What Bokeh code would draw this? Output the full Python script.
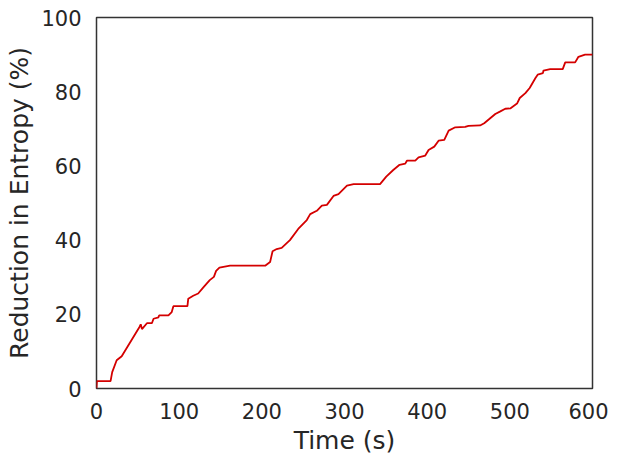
from bokeh.plotting import figure
from bokeh.models import Range1d, FixedTicker
from bokeh.embed import file_html
from bokeh.resources import INLINE

time_s = [0, 0.5, 17, 19, 24.4, 30.5, 52, 53.5, 55, 61, 67, 69, 75, 75.7, 87, 91, 93,
          110, 111, 117, 123, 129, 137, 142, 144.7, 148.7, 161.6, 204, 210, 213, 218,
          224, 234, 244, 254.4, 258.5, 266.5, 272.6, 278.7, 286.7, 292.7, 303, 311,
          343, 350.5, 359, 366.6, 373.5, 375.5, 385.6, 389.6, 397.7, 401.7, 408.6,
          413.8, 420.7, 426, 434, 446, 450, 464, 469, 475.5, 482.4, 488.5, 494.5,
          500.5, 508.7, 512, 518.8, 524, 531, 533.7, 540, 540.7, 548.8, 564, 567,
          579, 583, 591, 600]
entropy_pct = [0, 2.0, 2.0, 4.4, 7.6, 8.7, 16.6, 17.3, 16.0, 17.6, 17.6, 18.8, 19.2,
               19.7, 19.7, 20.6, 22.2, 22.2, 24.2, 25.0, 25.6, 27.2, 29.2, 30.1, 31.7,
               32.6, 33.1, 33.1, 34.1, 37.0, 37.6, 37.9, 40.0, 43.0, 45.4, 47.0, 47.9,
               49.3, 49.5, 51.9, 52.4, 54.7, 55.1, 55.1, 57.1, 58.9, 60.3, 60.6, 61.4,
               61.4, 62.3, 62.8, 64.3, 65.2, 66.8, 67.0, 69.5, 70.4, 70.5, 70.8, 70.9,
               71.5, 72.7, 74.0, 74.7, 75.4, 75.5, 76.8, 78.3, 79.6, 81.0, 83.7, 84.6,
               85.0, 85.7, 86.1, 86.1, 87.9, 87.9, 89.4, 90.0, 90.0]
x_ticks = [0, 100, 200, 300, 400, 500, 600]
y_ticks = [0, 20, 40, 60, 80, 100]

TEXT = "#262626"
FONT = "DejaVu Sans"

p = figure(width=608, height=458, output_backend="svg", toolbar_location=None,
           x_range=Range1d(0, 600), y_range=Range1d(0, 100),
           min_border_left=96, min_border_right=16, min_border_top=17, min_border_bottom=70)
p.line(time_s, entropy_pct, line_color="#d40000", line_width=1.8)

p.grid.visible = False
p.outline_line_color = "#333333"
p.outline_line_width = 1.5
p.background_fill_color = "white"
p.border_fill_color = "white"

for ax in (p.xaxis[0], p.yaxis[0]):
    ax.axis_line_color = None
    ax.major_tick_line_color = None
    ax.minor_tick_line_color = None
    ax.major_tick_out = 0
    ax.major_tick_in = 0
    ax.minor_tick_out = 0
    ax.minor_tick_in = 0
    ax.major_label_text_font = FONT
    ax.major_label_text_font_size = "21px"
    ax.major_label_text_color = TEXT
    ax.axis_label_text_font = FONT
    ax.axis_label_text_font_size = "25px"
    ax.axis_label_text_color = TEXT
    ax.axis_label_text_font_style = "normal"

p.xaxis.ticker = FixedTicker(ticks=x_ticks)
p.yaxis.ticker = FixedTicker(ticks=y_ticks)
p.xaxis.axis_label = "Time (s)"
p.yaxis.axis_label = "Reduction in Entropy (%)"
p.xaxis.major_label_standoff = 14
p.yaxis.major_label_standoff = 15
p.xaxis.axis_label_standoff = 4
p.yaxis.axis_label_standoff = 4

open("out.html", "w").write(file_html(p, INLINE))
